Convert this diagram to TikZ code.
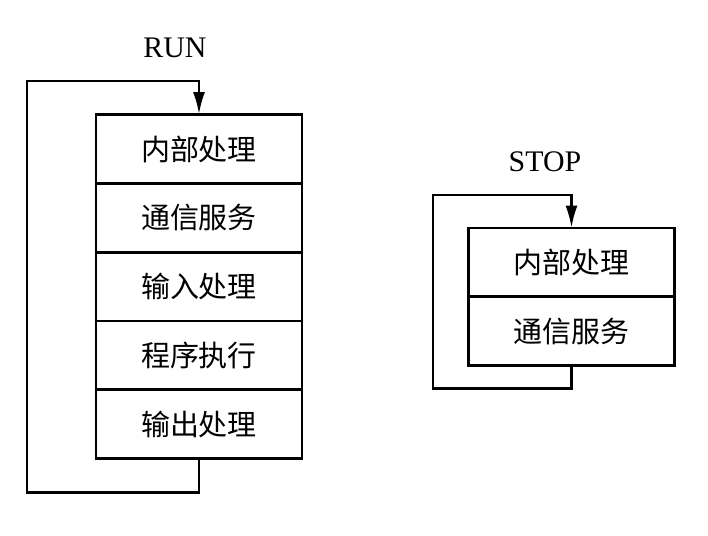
\documentclass[tikz,border=0pt]{standalone}
\usepackage{fontspec}
\setmainfont{Liberation Serif}
\newfontfamily\cjk{Noto Sans CJK SC}
\usetikzlibrary{arrows.meta,positioning}

\begin{document}
\begin{tikzpicture}[
    node distance=0cm,
    stagebox/.style={rectangle, draw, line width=1.6pt, outer sep=0pt, minimum width=4.12cm, minimum height=1.376cm, inner sep=0pt, font=\cjk\fontsize{16.5}{18}\selectfont},
    modelabel/.style={font=\fontsize{17}{19}\selectfont},
    loopline/.style={line width=1.6pt, -{Latex[length=4.5mm,width=2.4mm]}},
]
    \useasboundingbox (0,0) rectangle (14.16,-10.72);

    % RUN cycle
    \node[stagebox] (run1) at (3.98,-2.98) {内部处理};
    \node[stagebox, below=of run1] (run2) {通信服务};
    \node[stagebox, below=of run2] (run3) {输入处理};
    \node[stagebox, below=of run3] (run4) {程序执行};
    \node[stagebox, below=of run4] (run5) {输出处理};
    \node[modelabel] (runlabel) at (3.5,-0.96) {RUN};
    \coordinate (runcorner) at (0.54,-1.62);
    \draw[loopline] (run5.south) -- ++(0,-0.68) -| (runcorner) -| (run1.north);

    % STOP cycle
    \node[stagebox] (stop1) at (11.43,-5.25) {内部处理};
    \node[stagebox, below=of stop1] (stop2) {通信服务};
    \node[modelabel] (stoplabel) at (10.9,-3.24) {STOP};
    \coordinate (stopcorner) at (8.66,-3.9);
    \draw[loopline] (stop2.south) -- ++(0,-0.46) -| (stopcorner) -| (stop1.north);
\end{tikzpicture}
\end{document}
